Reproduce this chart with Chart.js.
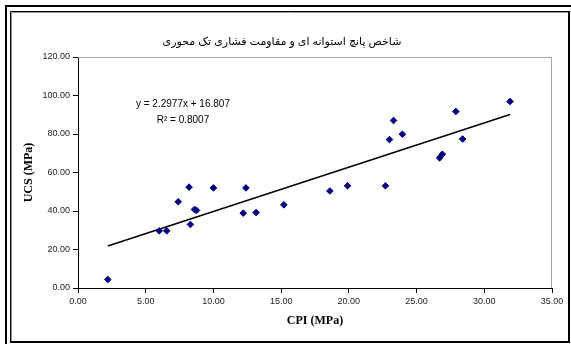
<!DOCTYPE html>
<html>
<head>
<meta charset="utf-8">
<script src="https://cdn.jsdelivr.net/npm/chart.js@4/dist/chart.umd.min.js"></script>
<style>
  html, body { margin: 0; padding: 0; background: #fff; }
  #wrap { width: 571px; height: 344px; }
</style>
</head>
<body>
<div id="wrap"><canvas id="c" width="571" height="344"></canvas></div>
<script>
// Point load index (CPI) vs uniaxial compressive strength (UCS), both in MPa
const cpi = [2.2, 6.0, 6.55, 7.4, 8.2, 8.3, 8.6, 8.75, 10.0, 12.2, 12.4, 13.15, 15.2,
             18.6, 19.9, 22.7, 23.0, 23.3, 23.95, 26.7, 26.9, 27.9, 28.4, 31.9];
const ucs = [4.4, 29.7, 29.7, 44.8, 52.4, 33.0, 40.8, 40.3, 52.0, 38.9, 52.0, 39.2, 43.2,
             50.4, 53.1, 53.1, 77.1, 87.0, 79.9, 67.6, 69.5, 91.7, 77.4, 96.9];

// Linear trend: y = slope * x + intercept
const slope = 2.2977;
const intercept = 16.807;
const rSquared = 0.8007;

const chartTitle = 'شاخص پانچ استوانه ای و مقاومت فشاری تک محوری';
const xTitle = 'CPI (MPa)';
const yTitle = 'UCS (MPa)';
const xTicks = [0, 5, 10, 15, 20, 25, 30, 35];
const yTicks = [0, 20, 40, 60, 80, 100, 120];

const points = cpi.map((x, i) => ({ x: x, y: ucs[i] }));
const xMin = Math.min(...cpi), xMax = Math.max(...cpi);
const trend = [
  { x: xMin, y: slope * xMin + intercept },
  { x: xMax, y: slope * xMax + intercept }
];

const sansFont = "'Liberation Sans', Arial, 'DejaVu Sans', sans-serif";
const serifFont = "'Liberation Serif', 'Times New Roman', serif";

// White page, plot-area outline (top/right in grey) and the double frame
const framePlugin = {
  id: 'frame',
  beforeDraw(chart) {
    const ctx = chart.ctx;
    ctx.save();
    ctx.fillStyle = '#fff';
    ctx.fillRect(0, 0, chart.width, chart.height);
    ctx.restore();
  },
  beforeDatasetsDraw(chart) {
    const { ctx, chartArea: a } = chart;
    ctx.save();
    ctx.strokeStyle = '#a6a6a6';
    ctx.lineWidth = 1;
    ctx.beginPath();
    ctx.moveTo(a.left, a.top + 0.5);
    ctx.lineTo(a.right - 0.5, a.top + 0.5);
    ctx.lineTo(a.right - 0.5, a.bottom);
    ctx.stroke();
    ctx.restore();
  },
  afterDraw(chart) {
    const ctx = chart.ctx;
    const W = chart.width, H = chart.height;
    ctx.save();
    // outer heavy frame (left and top)
    ctx.strokeStyle = '#000';
    ctx.lineWidth = 2;
    ctx.beginPath();
    ctx.moveTo(6, H);
    ctx.lineTo(6, 6);
    ctx.lineTo(W, 6);
    ctx.stroke();
    // inner frame: thin left/top with grey shade
    ctx.lineWidth = 1;
    ctx.beginPath();
    ctx.moveTo(10.5, H - 2);
    ctx.lineTo(10.5, 11.5);
    ctx.lineTo(W - 2, 11.5);
    ctx.stroke();
    ctx.strokeStyle = '#9a9a9a';
    ctx.beginPath();
    ctx.moveTo(11.5, H - 2);
    ctx.lineTo(11.5, 12.5);
    ctx.lineTo(W - 2, 12.5);
    ctx.stroke();
    // inner frame: heavy right/bottom
    ctx.strokeStyle = '#000';
    ctx.lineWidth = 2;
    ctx.beginPath();
    ctx.moveTo(10, H - 2);
    ctx.lineTo(W - 2, H - 2);
    ctx.lineTo(W - 2, 11);
    ctx.stroke();
    ctx.restore();
  }
};

// Trendline equation and R² placed in data coordinates
const equationPlugin = {
  id: 'equation',
  afterDatasetsDraw(chart) {
    const { ctx, scales: { x, y } } = chart;
    const cx = x.getPixelForValue(7.75);
    const y1 = y.getPixelForValue(95.2);
    const y2 = y.getPixelForValue(87.0);
    ctx.save();
    ctx.fillStyle = '#000';
    ctx.font = '10px ' + sansFont;
    ctx.textAlign = 'center';
    ctx.textBaseline = 'middle';
    ctx.fillText('y = ' + slope + 'x + ' + intercept, cx, y1);
    ctx.fillText('R² = ' + rSquared, cx, y2);
    ctx.restore();
  }
};

new Chart(document.getElementById('c'), {
  type: 'scatter',
  data: {
    datasets: [
      {
        label: 'UCS',
        data: points,
        pointStyle: 'rectRot',
        pointRadius: 3.3,
        backgroundColor: '#000080',
        borderColor: '#000080',
        borderWidth: 1,
        order: 1
      },
      {
        label: 'Linear',
        type: 'line',
        data: trend,
        showLine: true,
        borderColor: '#000',
        borderWidth: 1.5,
        pointRadius: 0,
        fill: false,
        order: 2
      }
    ]
  },
  options: {
    responsive: false,
    animation: false,
    events: [],
    layout: { padding: { left: 12, right: 19, top: 0, bottom: 0 } },
    plugins: {
      legend: { display: false },
      tooltip: { enabled: false },
      title: {
        display: true,
        text: chartTitle,
        color: '#000',
        font: { family: sansFont, size: 11, weight: 'normal' },
        padding: { top: 35.5, bottom: 8.3 }
      }
    },
    scales: {
      x: {
        type: 'linear',
        min: 0,
        max: 35,
        afterBuildTicks(scale) { scale.ticks = xTicks.map(v => ({ value: v })); },
        afterFit(scale) { scale.height = 56; },
        border: { color: '#000', width: 1 },
        grid: { drawOnChartArea: false, tickLength: 5, tickColor: '#000' },
        ticks: {
          padding: 3,
          color: '#222',
          font: { family: sansFont, size: 9 },
          maxRotation: 0,
          callback: v => Number(v).toFixed(2)
        },
        title: {
          display: true,
          text: xTitle,
          color: '#000',
          font: { family: serifFont, size: 12, weight: 'bold' },
          padding: { top: 0, bottom: 15.4 }
        }
      },
      y: {
        type: 'linear',
        min: 0,
        max: 120,
        afterBuildTicks(scale) { scale.ticks = yTicks.map(v => ({ value: v })); },
        afterFit(scale) { scale.width = 66; },
        border: { color: '#000', width: 1 },
        grid: { drawOnChartArea: false, tickLength: 5, tickColor: '#000' },
        ticks: {
          padding: 3,
          color: '#222',
          font: { family: sansFont, size: 9 },
          callback: v => Number(v).toFixed(2)
        },
        title: {
          display: true,
          text: yTitle,
          color: '#000',
          font: { family: serifFont, size: 12, weight: 'bold' },
          padding: { top: 9.4, bottom: 0 }
        }
      }
    }
  },
  plugins: [framePlugin, equationPlugin]
});
</script>
</body>
</html>
